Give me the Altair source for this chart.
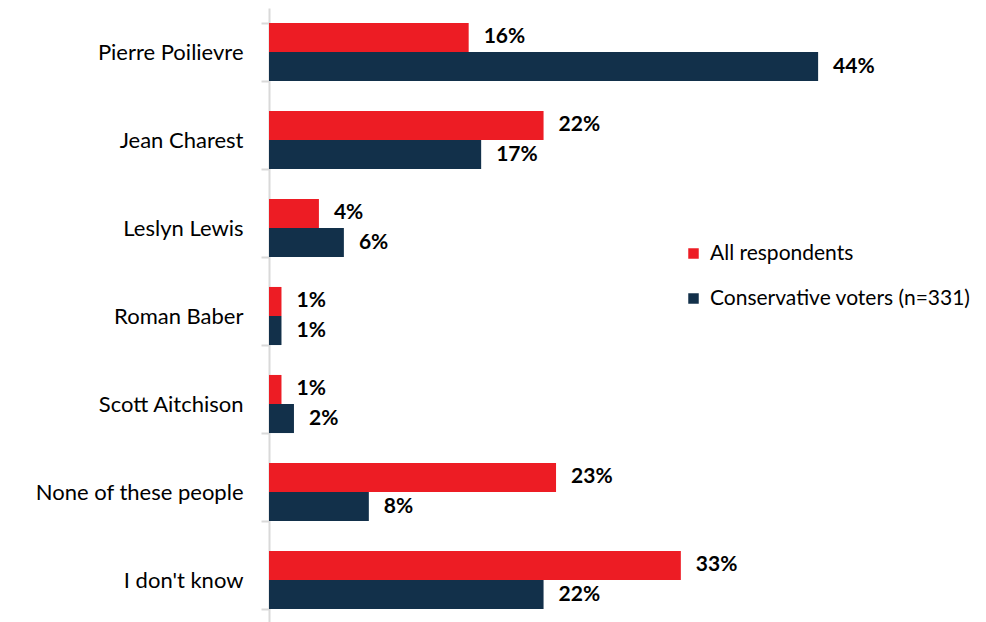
import altair as alt
import pandas as pd

categories = ["Pierre Poilievre", "Jean Charest", "Leslyn Lewis", "Roman Baber",
              "Scott Aitchison", "None of these people", "I don't know"]
series = ["All respondents", "Conservative voters (n=331)"]
all_resp = [16, 22, 4, 1, 1, 23, 33]
cons_voters = [44, 17, 6, 1, 2, 8, 22]
colors = ["#ED1C24", "#12304A"]

rows = []
for c, a, b in zip(categories, all_resp, cons_voters):
    rows.append({"cat": c, "series": series[0], "value": a, "label": f"{a}%"})
    rows.append({"cat": c, "series": series[1], "value": b, "label": f"{b}%"})
df = pd.DataFrame(rows)

FONT = "Lato"

y_enc = alt.Y("cat:N", sort=categories, title=None,
              scale=alt.Scale(paddingInner=0.34, paddingOuter=0.17),
              axis=alt.Axis(tickBand="extent", tickSize=8, tickWidth=2, tickColor="#D9D9D9",
                            domainColor="#D9D9D9", domainWidth=2, labelPadding=18,
                            labelFontSize=22, labelFont=FONT, labelColor="#000000",
                            labelLimit=300))
x_enc = alt.X("value:Q", scale=alt.Scale(domain=[0, 50]), axis=None)
yoff = alt.YOffset("series:N", sort=series)

bars = alt.Chart(df).mark_bar().encode(
    x=x_enc, y=y_enc, yOffset=yoff,
    color=alt.Color("series:N", sort=series,
                    scale=alt.Scale(domain=series, range=colors),
                    legend=alt.Legend(title=None, orient="none", legendX=414, legendY=235,
                                      symbolType="square", symbolSize=110,
                                      symbolStrokeWidth=0, labelOffset=6,
                                      labelFontSize=21, labelFont=FONT, labelColor="#000000",
                                      rowPadding=23, labelLimit=400)),
)

text = alt.Chart(df).mark_text(align="left", baseline="middle", dx=15,
                               fontWeight="bold", fontSize=21, font=FONT,
                               color="#000000").encode(
    x=x_enc, y=alt.Y("cat:N", sort=categories), yOffset=yoff, text="label:N")

chart = (bars + text).properties(
    width=624, height=616,
    autosize=alt.AutoSizeParams(type="none"),
    padding={"left": 261, "top": 0, "right": 85, "bottom": 0},
).configure_view(stroke=None)

chart.save("out.html", embed_options={"renderer": "svg", "actions": False})
